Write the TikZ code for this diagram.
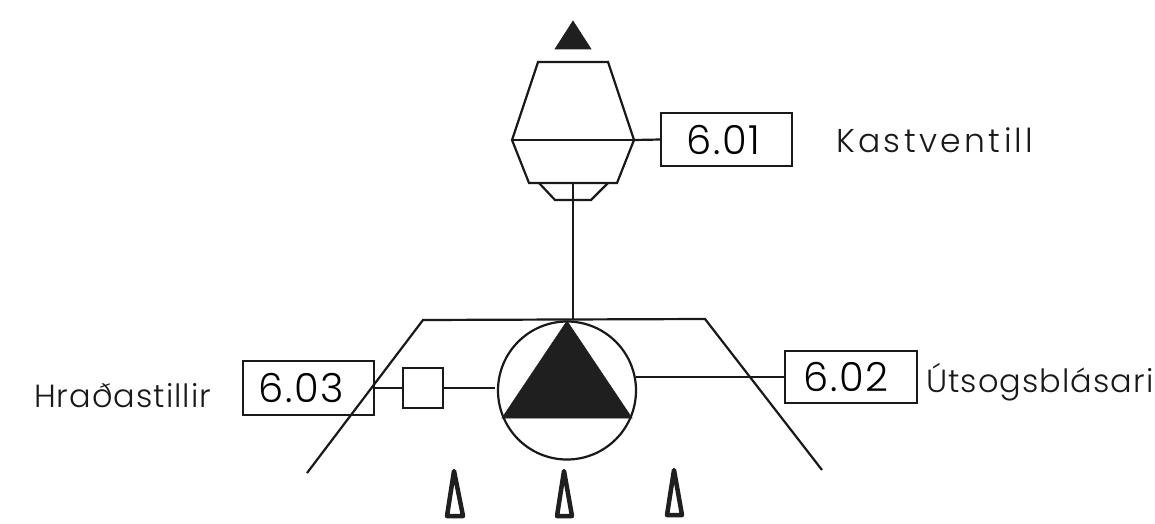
\documentclass[tikz,border=0pt]{standalone}
\usepackage{fontspec}
\setmainfont{Poppins Light}[LetterSpace=3.3]
\newfontfamily\numfont{Poppins Light}[LetterSpace=4]
\newfontfamily\widefont{Poppins Light}[LetterSpace=10.3]
\tikzset{
  ln/.style={line width=2.2pt,line join=miter,black!90},
  idbox/.style={draw=black!90,line width=2.4pt,inner sep=0pt,outer sep=0pt,font=\numfont\fontsize{40}{40}\selectfont},
  lbl/.style={inner sep=0pt,outer sep=0pt,anchor=base west,font=\fontsize{32}{32}\selectfont,text=black!90},
  dark/.style={fill=black!88,draw=black!88,line width=.6pt},
  nozzle/.style={draw=black!88,line width=4.5pt,line join=round,fill=white}
}
\begin{document}
\begin{tikzpicture}[x=1pt,y=-1pt]
\useasboundingbox (0,0) rectangle (1155,524);
% top cone
\coordinate (coneA) at (573,21); \coordinate (coneB) at (591,49); \coordinate (coneC) at (555,49);
\draw[dark] (coneA) -- (coneB) -- (coneC) -- cycle;
% valve
\coordinate (vTL) at (538,62); \coordinate (vTR) at (608,62);
\coordinate (vL) at (512,140); \coordinate (vR) at (634,140);
\coordinate (vBL) at (529,183); \coordinate (vBR) at (617,183);
\coordinate (sTL) at (539,183); \coordinate (sBL) at (555,200);
\coordinate (sBR) at (591,200); \coordinate (sTR) at (608,183);
\coordinate (vStem) at (573,183);
\draw[ln] (vTL) -- (vTR) -- (vR) -- (vBR) -- (vBL) -- (vL) -- cycle;
\draw[ln] (vL) -- (vR);
\draw[ln] (sTL) -- (sBL) -- (sBR) -- (sTR);
% hood
\coordinate (hL) at (307,473); \coordinate (hTL) at (423,320);
\coordinate (hTR) at (705,319); \coordinate (hR) at (822,470);
\coordinate (hStem) at (573,320);
\draw[ln] (hL) -- (hTL) -- (hTR) -- (hR);
\draw[ln] (vStem) -- (hStem);
% fan
\node[draw=black!90,line width=2.2pt,circle,minimum size=138pt,inner sep=0pt,outer sep=0pt] (pump) at (567,390.5) {};
\coordinate (tA) at (567,321); \coordinate (tB) at (632,418); \coordinate (tC) at (502,418);
\draw[dark] (tA) -- (tB) -- (tC) -- cycle;
% boxes
\node[idbox,minimum width=131pt,minimum height=53pt] (b1) at (726.5,139.5) {\hspace*{-6pt}6.01};
\node[idbox,minimum width=132pt,minimum height=52pt] (b2) at (851,377) {\hspace*{-10pt}6.02};
\node[idbox,minimum width=131pt,minimum height=54pt] (b3) at (308.5,388) {\hspace*{-14pt}6.03};
\node[draw=black!90,line width=2.2pt,minimum size=40pt,inner sep=0pt,outer sep=0pt] (sq) at (423,388) {};
\coordinate (pL) at (495,388); \coordinate (pR) at (636,377);
\draw[ln] (vR) -- (b1.west);
\draw[ln] (pR) -- (b2.west);
\draw[ln] (b3.east) -- (sq.west);
\draw[ln] (sq.east) -- (pL);
% labels
\node[lbl,font=\widefont\fontsize{33}{33}\selectfont] (k) at (836,152) {Kastventill};
\node[lbl] (h) at (34,407) {Hraðastillir};
\node[lbl] (u) at (926,392) {Útsogsblásari};
% nozzles
\draw[nozzle] (454,471) -- (463,516) -- (447,516) -- cycle;
\draw[nozzle] (564,471) -- (572,516) -- (557,516) -- cycle;
\draw[nozzle] (674,470) -- (682,515) -- (667,515) -- cycle;
\end{tikzpicture}
\end{document}
